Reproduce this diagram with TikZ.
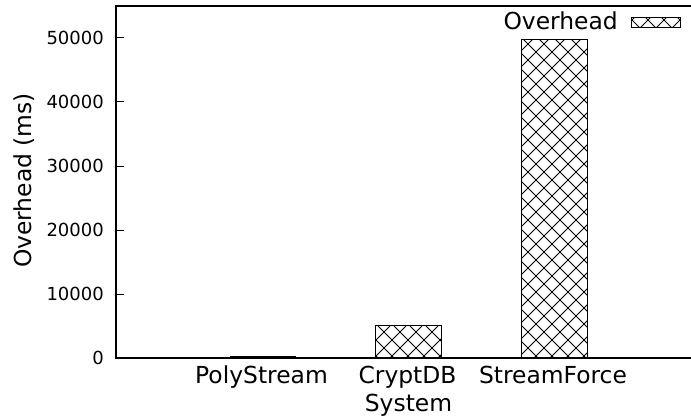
\documentclass[tikz,border=0pt]{standalone}
\usepackage{fontspec}
\setmainfont{DejaVu Sans}
\newcommand\myhatch[4]{%
  \begin{scope}
    \clip (#1,#2) rectangle (#3,#4);
    \foreach \k in {-30,...,75}{
      \draw[hatchline] ({16*\k+4},0) -- ++(-420,420);
      \draw[hatchline] ({16*\k+12},0) -- ++(420,420);
    }
  \end{scope}
  \draw[barframe] (#1,#2) rectangle (#3,#4);%
}
\begin{document}
\begin{tikzpicture}[x=1pt,y=1pt,
  ticklab/.style={font=\fontsize{18}{20}\selectfont, inner sep=0pt},
  lab/.style={font=\fontsize{23.4}{26}\selectfont, inner sep=0pt},
  hatchline/.style={line width=0.95pt},
  barframe/.style={draw=black, line width=1pt},
  axisline/.style={line width=1.5pt},
  tickmark/.style={line width=1pt}]
\useasboundingbox (0,0) rectangle (691,416);
% bars
\myhatch{230}{58}{295}{59.5}
\myhatch{375.3}{58}{441}{90.7}
\myhatch{521}{58}{587}{376}
% axes
\draw[axisline] (691,410) -- (116,410) -- (116,58) -- (691,58);
% y ticks
\foreach \v/\lbl in {0/0,1/10000,2/20000,3/30000,4/40000,5/50000}{
  \draw[tickmark] (116,{58+64*\v}) -- (124,{58+64*\v});
  \node[ticklab, anchor=east] (t\v) at (104,{58+64*\v}) {\lbl};
}
% x tick labels
\node[lab, anchor=base] (xa) at (261.5,33) {PolyStream};
\node[lab, anchor=base] (xb) at (407.5,33) {CryptDB};
\node[lab, anchor=base] (xc) at (553,33) {StreamForce};
\node[lab, anchor=base] (xl) at (408.5,4.5) {System};
% y label
\node[lab, rotate=90] (yl) at (24.5,235.5) {Overhead (ms)};
% legend
\node[lab, anchor=base east] (lg) at (618,386) {Overhead};
\myhatch{631}{388}{680}{398}
\end{tikzpicture}
\end{document}
